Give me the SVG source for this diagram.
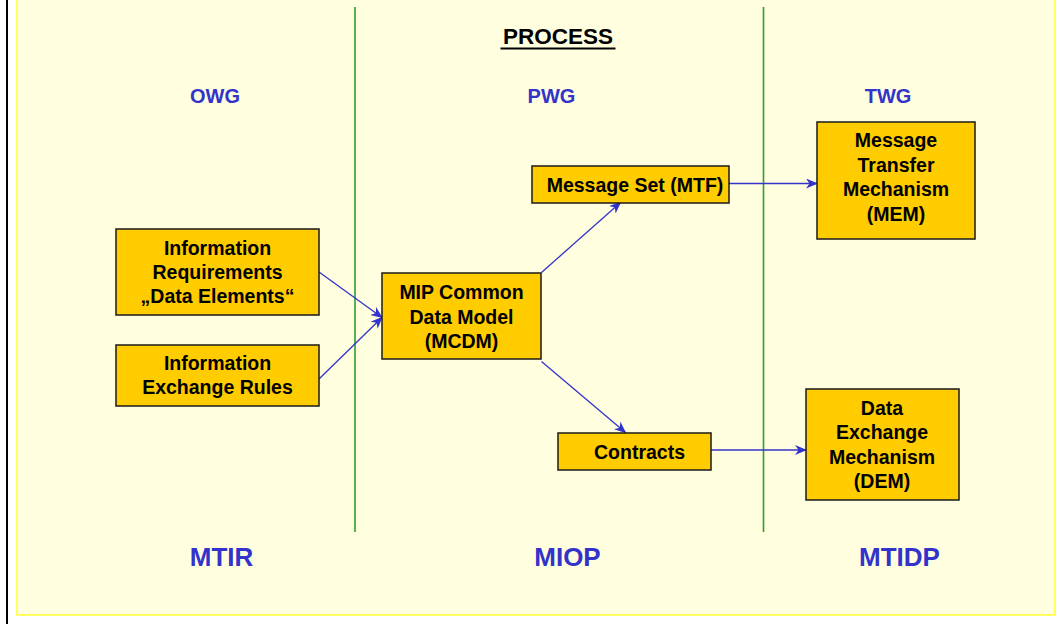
<svg xmlns="http://www.w3.org/2000/svg" width="1064" height="624" viewBox="0 0 1064 624">
<style>
.box{fill:#FFCC00;stroke:#1a1a1a;stroke-width:1.5}
.bt{font-family:"Liberation Sans",Arial,sans-serif;font-weight:bold;font-size:19.5px;fill:#000;text-anchor:middle}
.lbl{font-family:"Liberation Sans",Arial,sans-serif;font-weight:bold;font-size:20px;fill:#3333CC;text-anchor:middle}
.big{font-family:"Liberation Sans",Arial,sans-serif;font-weight:bold;font-size:26px;fill:#3333CC;text-anchor:middle}
.con{stroke:#3333CC;stroke-width:1.3;fill:none;marker-end:url(#ah)}
.sep{stroke:#2E9E2E;stroke-width:1.6}
</style>
<defs>
<marker id="ah" viewBox="0 0 12 10" refX="11" refY="5" markerWidth="12" markerHeight="10" markerUnits="userSpaceOnUse" orient="auto">
<path d="M0,0 L12,5 L0,10 L3.5,5 Z" fill="#3333CC"/>
</marker>
</defs>
<rect x="0" y="0" width="1064" height="624" fill="#FFFFFF"/>
<line x1="7" y1="0" x2="7" y2="624" stroke="#000" stroke-width="2"/>
<rect x="17" y="-5" width="1038" height="620" fill="#FFFFDF" stroke="#FFFF33" stroke-width="1.5"/>
<g id="separators">
<line class="sep" x1="355" y1="7" x2="355" y2="532"/>
<line class="sep" x1="763.5" y1="7" x2="763.5" y2="532" stroke="#119911"/>
</g>
<g id="title">
<text x="558" y="44" font-family="'Liberation Sans',Arial,sans-serif" font-weight="bold" font-size="22.5" fill="#000" text-anchor="middle">PROCESS</text>
<line x1="500.5" y1="48.5" x2="615.5" y2="48.5" stroke="#000" stroke-width="2"/>
</g>
<g id="labels">
<text class="lbl" x="215" y="103">OWG</text>
<text class="lbl" x="551.5" y="103">PWG</text>
<text class="lbl" x="888" y="103">TWG</text>
<text class="big" x="221.5" y="566">MTIR</text>
<text class="big" x="567.5" y="566">MIOP</text>
<text class="big" x="899.5" y="566">MTIDP</text>
</g>
<g id="connectors">
<line class="con" x1="319" y1="272" x2="382" y2="317.5"/>
<line class="con" x1="319" y1="379" x2="382" y2="317.5"/>
<line class="con" x1="541.5" y1="272.5" x2="620.5" y2="202.5"/>
<line class="con" x1="541.5" y1="361.5" x2="625.5" y2="432.5"/>
<line class="con" x1="718" y1="183.5" x2="817" y2="183.5"/>
<line class="con" x1="711" y1="450" x2="806" y2="450"/>
</g>
<g id="info-req">
<rect class="box" x="116" y="229" width="203" height="86"/>
<text class="bt" x="217.5" y="255">Information</text>
<text class="bt" x="217.5" y="279">Requirements</text>
<text class="bt" x="217.5" y="303">„Data Elements“</text>
</g>
<g id="info-exch">
<rect class="box" x="116" y="345" width="203" height="61"/>
<text class="bt" x="217.5" y="370">Information</text>
<text class="bt" x="217.5" y="394">Exchange Rules</text>
</g>
<g id="mcdm">
<rect class="box" x="382" y="273" width="159" height="86"/>
<text class="bt" x="461.5" y="299">MIP Common</text>
<text class="bt" x="461.5" y="323.5">Data Model</text>
<text class="bt" x="461.5" y="348">(MCDM)</text>
</g>
<g id="message-set">
<rect class="box" x="532" y="166" width="197" height="37"/>
<text class="bt" x="635" y="192">Message Set (MTF)</text>
</g>
<g id="mem">
<rect class="box" x="817" y="122" width="158" height="117"/>
<text class="bt" x="896" y="147">Message</text>
<text class="bt" x="896" y="171.5">Transfer</text>
<text class="bt" x="896" y="196">Mechanism</text>
<text class="bt" x="896" y="220.5">(MEM)</text>
</g>
<g id="contracts">
<rect class="box" x="558" y="433" width="153" height="37"/>
<text class="bt" x="639.5" y="458.5">Contracts</text>
</g>
<g id="dem">
<rect class="box" x="806" y="389" width="153" height="111"/>
<text class="bt" x="882" y="414.5">Data</text>
<text class="bt" x="882" y="439">Exchange</text>
<text class="bt" x="882" y="463.5">Mechanism</text>
<text class="bt" x="882" y="488">(DEM)</text>
</g>
</svg>
